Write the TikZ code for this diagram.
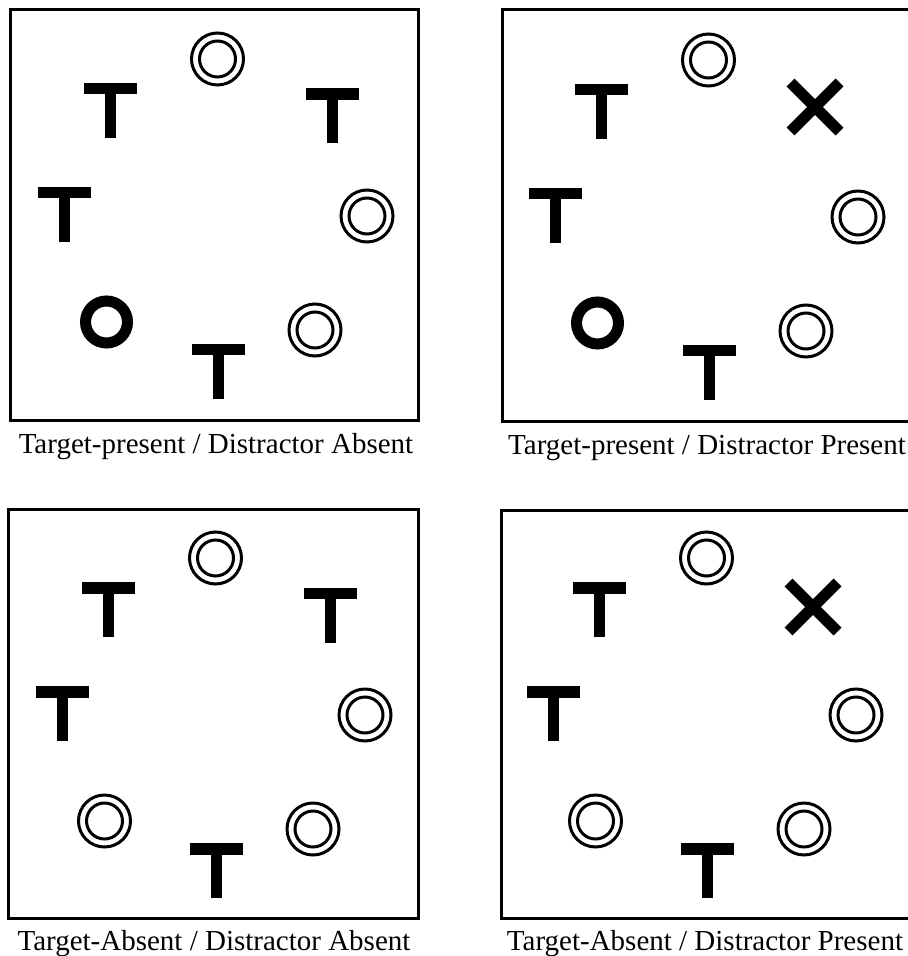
\documentclass[tikz,border=0pt]{standalone}
\usepackage{fontspec}
\setmainfont{Liberation Serif}
\tikzset{
  vs/frame/.style={draw=black, line width=1.5pt},
  vs/ring/.style={draw=black, line width=1.5pt},
  vs/bold/.style={draw=black, line width=5.5pt},
  vs/caption/.style={font=\fontsize{14.5}{17}\selectfont, anchor=base, inner sep=0pt}
}
\begin{document}
\begin{tikzpicture}[x=.5pt,y=-.5pt]
  \useasboundingbox (0,0) rectangle (907,956);
  % search items, drawn about their centres
  \newcommand{\vsT}[2]{%
    \fill (#1-26.5,#2-27.5) rectangle (#1+26.5,#2-16);
    \fill (#1-5.5,#2-16) rectangle (#1+5.5,#2+27.5);}
  \newcommand{\vsDC}[2]{%
    \draw[vs/ring] (#1,#2) circle (26);
    \draw[vs/ring] (#1,#2) circle (18);}
  \newcommand{\vsO}[2]{%
    \draw[vs/bold] (#1,#2) circle (21);}
  \newcommand{\vsX}[2]{%
    \draw[vs/bold] (#1-24.5,#2-24.5)--(#1+24.5,#2+24.5);
    \draw[vs/bold] (#1-24.5,#2+24.5)--(#1+24.5,#2-24.5);}
  % a: target present, distractor absent
  \begin{scope}
    \draw[vs/frame] (10,10) rectangle (418,420);
    \vsDC{217.5}{59}
    \vsT{110}{110.5}
    \vsT{332}{116}
    \vsT{64}{214.5}
    \vsDC{367}{216}
    \vsO{106.5}{322}
    \vsT{218}{371.5}
    \vsDC{315}{330}
    \node[vs/caption] (capA) at (216,453) {Target-present / Distractor Absent};
  \end{scope}
  % b: target present, distractor present
  \begin{scope}[shift={(491,1)}]
    \draw[vs/frame] (11,9) rectangle (419,420);
    \vsDC{217.5}{59}
    \vsT{110}{110.5}
    \vsX{324}{106}
    \vsT{64}{214.5}
    \vsDC{367}{216}
    \vsO{106.5}{322}
    \vsT{218}{371.5}
    \vsDC{315}{330}
    \node[vs/caption] (capB) at (216,453) {Target-present / Distractor Present};
  \end{scope}
  % c: target absent, distractor absent
  \begin{scope}[shift={(-2,499)}]
    \draw[vs/frame] (10,10) rectangle (420,419);
    \vsDC{217.5}{59}
    \vsT{110}{110.5}
    \vsT{332}{116}
    \vsT{64}{214.5}
    \vsDC{367}{216}
    \vsDC{106.5}{322}
    \vsT{218}{371.5}
    \vsDC{315}{330}
    \node[vs/caption] (capC) at (216,451) {Target-Absent / Distractor Absent};
  \end{scope}
  % d: target absent, distractor present
  \begin{scope}[shift={(489,499)}]
    \draw[vs/frame] (12,11) rectangle (420,419);
    \vsDC{217.5}{59}
    \vsT{110}{110.5}
    \vsX{324}{108}
    \vsT{64}{214.5}
    \vsDC{367}{216}
    \vsDC{106.5}{322}
    \vsT{218}{371.5}
    \vsDC{315}{330}
    \node[vs/caption] (capD) at (216,451) {Target-Absent / Distractor Present};
  \end{scope}
\end{tikzpicture}
\end{document}
